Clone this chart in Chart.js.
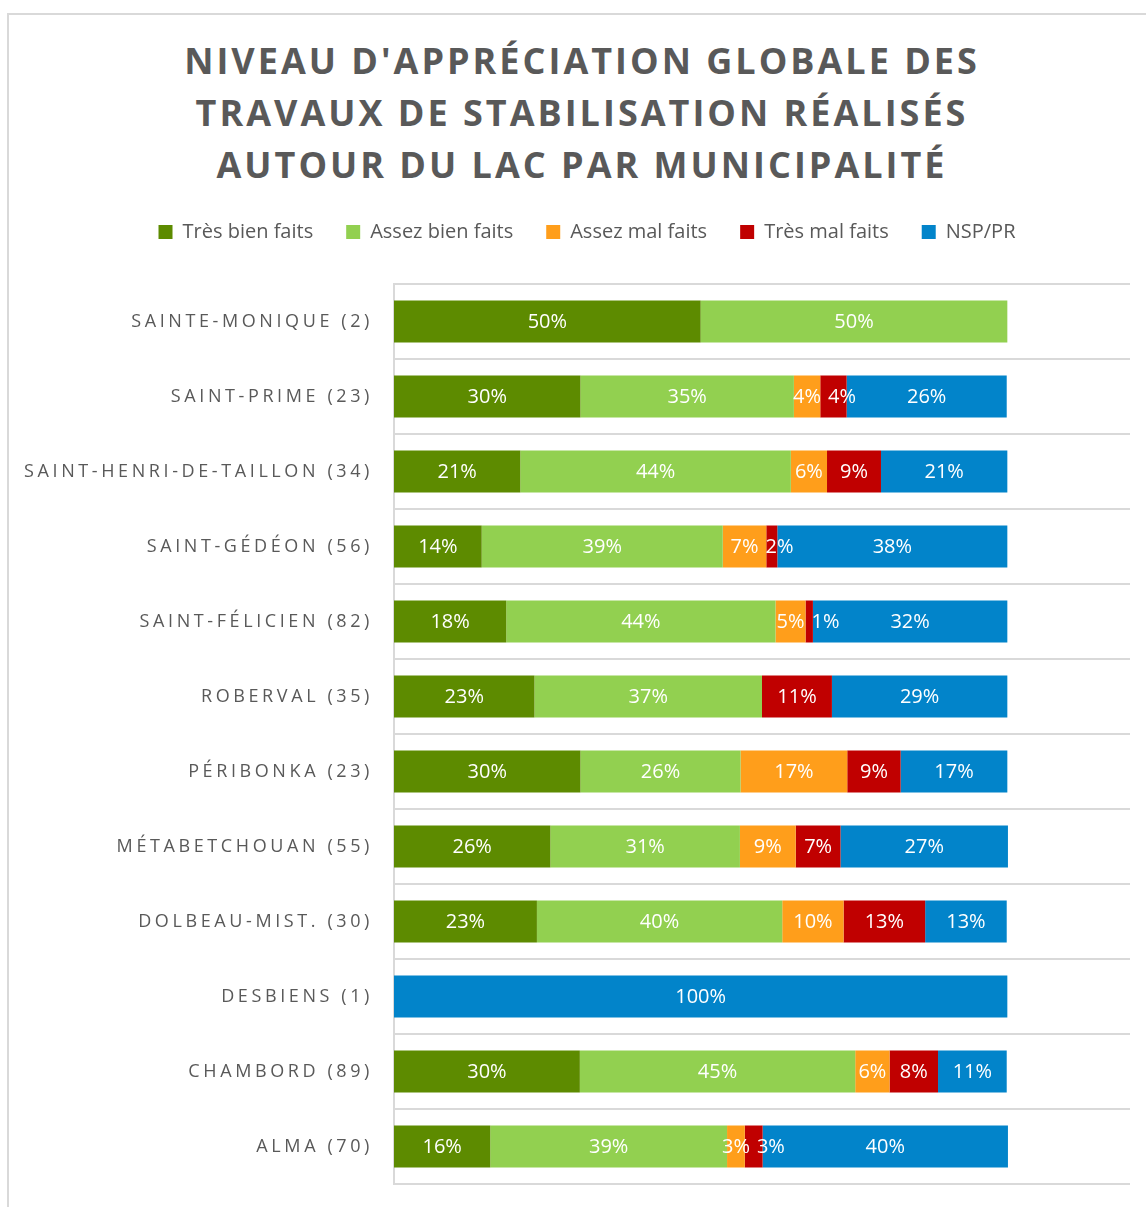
<!DOCTYPE html>
<html lang="fr">
<head>
<meta charset="utf-8">
<title>Niveau d'appréciation globale</title>
<script src="https://cdn.jsdelivr.net/npm/chart.js@4.4.1/dist/chart.umd.min.js"></script>
<style>
    html, body { margin: 0; padding: 0; background: #fff; overflow: hidden; }
    #wrap { position: relative; width: 1146px; height: 1207px; }
    #cadre { position: absolute; left: 7px; top: 13px; width: 1150px; height: 1210px;
             border-left: 2px solid #D9D9D9; border-top: 2px solid #D9D9D9; }
    #titre { position: absolute; left: 0; top: 35px; width: 1164px; text-align: center;
             font-family: "Open Sans", sans-serif; font-weight: bold; font-size: 36px;
             line-height: 52px; letter-spacing: 3px; color: #595959; }
    #graphique { position: absolute; left: 0; top: 0; }
</style>
</head>
<body>
<div id="wrap">
    <div id="cadre"></div>
    <div id="titre">NIVEAU D'APPRÉCIATION GLOBALE DES<br>TRAVAUX DE STABILISATION RÉALISÉS<br>AUTOUR DU LAC PAR MUNICIPALITÉ</div>
    <canvas id="graphique" width="1146" height="1207"></canvas>
</div>

<script>
var municipalites = [
    'SAINTE-MONIQUE (2)', 'SAINT-PRIME (23)', 'SAINT-HENRI-DE-TAILLON (34)', 'SAINT-GÉDÉON (56)',
    'SAINT-FÉLICIEN (82)', 'ROBERVAL (35)', 'PÉRIBONKA (23)', 'MÉTABETCHOUAN (55)',
    'DOLBEAU-MIST. (30)', 'DESBIENS (1)', 'CHAMBORD (89)', 'ALMA (70)'
];

// pourcentages (%)
var tresBien  = [50, 30.4, 20.6, 14.3, 18.3, 22.9, 30.4, 25.5, 23.3, 0, 30.3, 15.7];
var assezBien = [50, 34.8, 44.1, 39.3, 43.9, 37.1, 26.1, 30.9, 40.0, 0, 44.9, 38.6];
var assezMal  = [0, 4.3, 5.9, 7.1, 4.9, 0, 17.4, 9.1, 10.0, 0, 5.6, 2.9];
var tresMal   = [0, 4.3, 8.8, 1.8, 1.2, 11.4, 8.7, 7.3, 13.3, 0, 7.9, 2.9];
var nspPr     = [0, 26.1, 20.6, 37.5, 31.7, 28.6, 17.4, 27.3, 13.3, 100, 11.2, 40.0];

var texteGris = '#595959';

// etiquettes blanches dans les barres + espacement des lettres pour l'axe
var etiquettes = {
    id: 'etiquettes',
    beforeInit: function (chart) {
        var fitOrig = chart.legend.fit;
        chart.legend.fit = function () {
            fitOrig.bind(chart.legend)();
            this.height += 32;
        };
    },
    afterLayout: function (chart) {
        // legende centree un peu plus a droite, comme dans Excel
        chart.legend.left += 22;
        chart.legend.right += 22;
    },
    afterDatasetsDraw: function (chart) {
        var ctx = chart.ctx;
        ctx.save();
        ctx.font = '20px "Open Sans", sans-serif';
        ctx.fillStyle = '#ffffff';
        ctx.textAlign = 'center';
        ctx.textBaseline = 'middle';
        var finPrec = [];
        chart.data.datasets.forEach(function (ds, i) {
            var meta = chart.getDatasetMeta(i);
            meta.data.forEach(function (bar, j) {
                var v = ds.data[j];
                if (!v) return;
                var txt = Math.round(v) + '%';
                var w = ctx.measureText(txt).width;
                var c = bar.getCenterPoint();
                var x = c.x;
                // on pousse l'etiquette si elle chevauche la precedente
                if (finPrec[j] !== undefined && x - w / 2 < finPrec[j] + 7) {
                    x = finPrec[j] + 7 + w / 2;
                }
                ctx.fillText(txt, x, c.y + 1);
                finPrec[j] = x + w / 2;
            });
        });
        ctx.restore();
        ctx.letterSpacing = '3.6px';
    },
    afterDraw: function (chart) {
        chart.ctx.letterSpacing = '0px';
    }
};

function showGraph() {
    var chartdata = {
        labels: municipalites,
        datasets: [
            { label: 'Très bien faits', data: tresBien, backgroundColor: '#5D8B00' },
            { label: 'Assez bien faits', data: assezBien, backgroundColor: '#92D050' },
            { label: 'Assez mal faits', data: assezMal, backgroundColor: '#FF9E1B' },
            { label: 'Très mal faits', data: tresMal, backgroundColor: '#C00000' },
            { label: 'NSP/PR', data: nspPr, backgroundColor: '#0284CA' }
        ]
    };

    var graphTarget = document.getElementById('graphique');

    var barGraph = new Chart(graphTarget, {
        type: 'bar',
        data: chartdata,
        plugins: [etiquettes],
        options: {
            indexAxis: 'y',
            responsive: false,
            animation: false,
            datasets: {
                bar: { categoryPercentage: 1, barPercentage: 0.56, borderWidth: 0 }
            },
            layout: { padding: { top: 189, left: 0, right: 16, bottom: 23 } },
            plugins: {
                legend: {
                    position: 'top',
                    labels: {
                        boxWidth: 14,
                        boxHeight: 14,
                        padding: 33,
                        color: texteGris,
                        font: { family: '"Open Sans", sans-serif', size: 20 }
                    }
                },
                tooltip: { enabled: false }
            },
            scales: {
                x: {
                    display: false,
                    stacked: true,
                    min: 0,
                    max: 120
                },
                y: {
                    stacked: true,
                    afterFit: function (scale) { scale.width = 394; },
                    grid: {
                        color: '#D9D9D9', lineWidth: 2, offset: true,
                        drawTicks: true, tickLength: 21, tickColor: 'rgba(0,0,0,0)'
                    },
                    border: { color: '#D9D9D9', width: 2 },
                    ticks: {
                        z: 1,
                        padding: 0,
                        color: texteGris,
                        font: { family: '"Open Sans", sans-serif', size: 18 }
                    }
                }
            }
        }
    });
}

showGraph();
</script>
</body>
</html>
